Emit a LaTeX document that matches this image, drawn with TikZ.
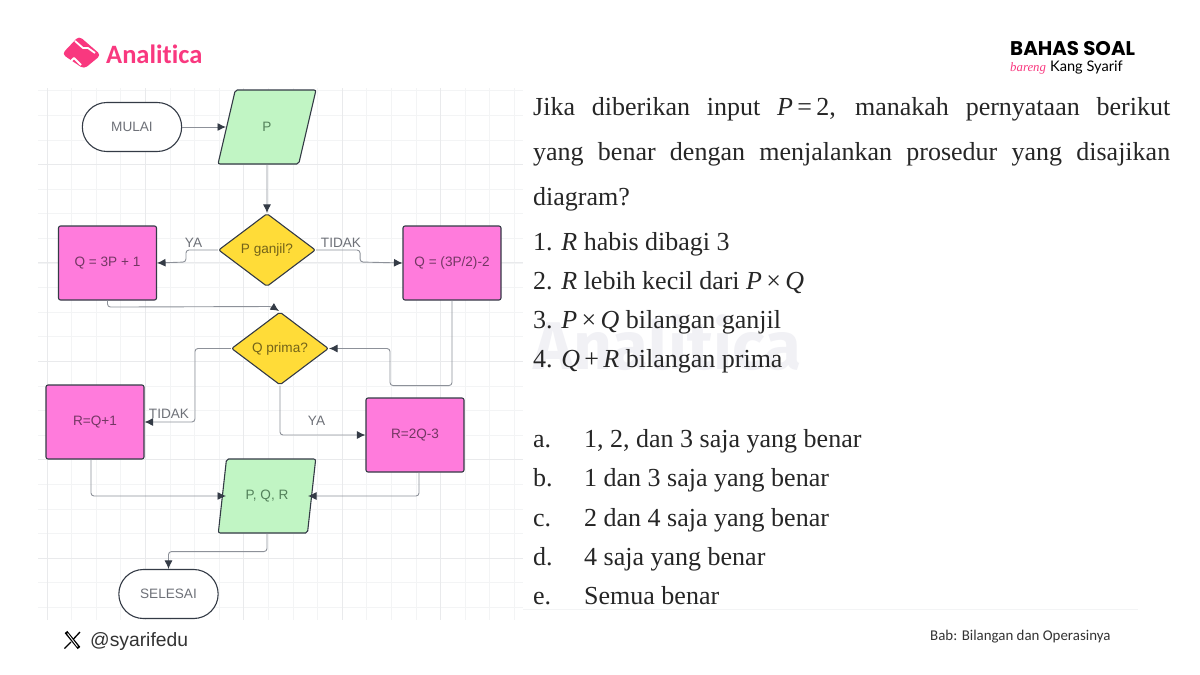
\documentclass[tikz,border=0pt]{standalone}
\usepackage{fontspec}
\setmainfont{Liberation Serif}
\setsansfont{Liberation Sans}
\newfontfamily\brandfont{Fira Sans}
\newfontfamily\headfont{Poppins}
\newfontfamily\footfont[Ligatures=NoCommon]{Carlito}
\newfontfamily\handlefont{Lato}
\usetikzlibrary{arrows.meta,shapes.geometric,shapes.misc}
\definecolor{pinkbox}{HTML}{FF7BDC}
\definecolor{greenbox}{HTML}{C1F5C4}
\definecolor{yellowbox}{HTML}{FFDC38}
\definecolor{edgeline}{HTML}{343B46}
\definecolor{connline}{HTML}{8D9199}
\definecolor{labelgrey}{HTML}{6E7178}
\definecolor{gridminor}{HTML}{F3F4F5}
\definecolor{gridmajor}{HTML}{E9EAEC}
\definecolor{brandpink}{HTML}{F9387F}
\definecolor{markgrey}{HTML}{F1F1F5}
\newcommand{\mv}[1]{\textit{#1}}
\tikzset{
  shape base/.style={draw=edgeline,line width=1.1pt,font=\sffamily\fontsize{13.6}{15}\selectfont},
  terminal/.style={shape base,rounded rectangle,fill=white,text=labelgrey,minimum width=106pt,minimum height=49pt},
  io/.style={shape base,trapezium,trapezium left angle=75,trapezium right angle=105,trapezium stretches=true,
    rounded corners=2pt,fill=greenbox,text=black!30!green!25!labelgrey,minimum width=98pt,minimum height=74pt},
  decision/.style={shape base,diamond,rounded corners=2pt,aspect=1.33,fill=yellowbox,text=yellowbox!45!black,
    minimum width=97pt,minimum height=73pt,inner sep=0pt},
  process/.style={shape base,rectangle,rounded corners=2pt,fill=pinkbox,text=pinkbox!45!black,
    minimum width=98pt,minimum height=74pt},
  conn/.style={draw=connline,line width=.9pt,rounded corners=3pt,-{Latex[length=8.5pt,width=8pt,color=edgeline]}},
  flowlabel/.style={text=labelgrey,font=\sffamily\fontsize{13.6}{15}\selectfont,inner sep=0pt},
  free text/.style={anchor=base west,inner sep=0pt},
  line text/.style={free text,font=\fontsize{26}{28}\selectfont,text=black!85},
}
\begin{document}
\begin{tikzpicture}[x=1pt,y=-1pt]
  \useasboundingbox (0,0) rectangle (1200,675);
  \fill[white] (0,0) rectangle (1200,675);
  \foreach \i in {0,...,19}
    \draw[gridminor,line width=.8pt] (47+24.6*\i,88) -- (47+24.6*\i,620);
  \foreach \i in {0,...,21}
    \draw[gridminor,line width=.8pt] (38,90.7+24.6*\i) -- (523,90.7+24.6*\i);
  \foreach \i in {0,...,4}
    \draw[gridmajor,line width=1pt] (47+98.4*\i,88) -- (47+98.4*\i,620);
  \foreach \i in {1,...,5}
    \draw[gridmajor,line width=1pt] (38,66.1+98.4*\i) -- (523,66.1+98.4*\i);
  \draw[gridminor,line width=1pt] (523,609) -- (1138,609);

  \node[free text,text=markgrey,font=\brandfont\bfseries\fontsize{67.5}{70}\selectfont] (mark) at (533,369) {Analitica};

  \node[terminal] (mulai) at (132,127) {MULAI};
  \node[io] (pin) at (267,127) {P};
  \node[decision] (ganjil) at (267,250) {P ganjil?};
  \node[process] (qa) at (107.5,263) {Q = 3P + 1};
  \node[process] (qb) at (452,263) {Q = (3P/2)-2};
  \node[decision] (prima) at (280,348.5) {Q prima?};
  \node[process] (ra) at (95,422) {R=Q+1};
  \node[process] (rb) at (415,435) {R=2Q-3};
  \node[io] (pout) at (267,496) {P, Q, R};
  \node[terminal] (selesai) at (168.5,594) {SELESAI};

  \coordinate (tip) at (279,311);
  \coordinate (pinl) at (226,127);
  \coordinate (poutl) at (226,496);
  \coordinate (poutr) at (308,496);
  \draw[conn] (mulai.east) -- (pinl);
  \draw[conn] (pin.south) -- (ganjil.north);
  \draw[conn] (ganjil.west) -- ++(-32,0) -- ++(0,12) -- (qa.east);
  \draw[conn] (ganjil.east) -- ++(44,0) -- ++(0,12) -- (qb.west);
  \draw[conn] (qa.south) -- ++(0,6.5) -- (272,306.5) -- (tip);
  \draw[conn] (qb.south) -- ++(0,85) -- ++(-62,0) |- (prima.east);
  \draw[conn] (prima.west) -- ++(-36,0) |- (ra.east);
  \draw[conn] (prima.south) |- (rb.west);
  \draw[conn] ([xshift=-4pt]ra.south) |- (poutl);
  \draw[conn] ([xshift=4pt]rb.south) |- (poutr);
  \draw[conn] (pout.south) -- ++(0,18) -| (selesai.north);

  \node[flowlabel] (ya1) at (193.5,243) {YA};
  \node[flowlabel] (tidak1) at (341,242.5) {TIDAK};
  \node[flowlabel] (tidak2) at (169,414) {TIDAK};
  \node[flowlabel] (ya2) at (316.5,421) {YA};

  \fill[brandpink,rounded corners=4pt] (62,54) -- (79,36) -- (101,55) -- (84,69) -- cycle;
  \draw[white,line width=1.8pt,line join=round] (75,41) -- (83,48) -- (88,48) -- (95,53);
  \draw[white,line width=1.8pt,line join=round] (68,64) -- (74,58) -- (81,65);
  \node[free text,text=brandpink,font=\footfont\bfseries\fontsize{26.5}{28}\selectfont] (brand) at (106,63) {Analitica};

  \node[free text,font=\headfont\bfseries\fontsize{19.8}{22}\selectfont] (bahas) at (1010,55) {BAHAS SOAL};
  \node[free text,text=brandpink,font=\rmfamily\itshape\fontsize{12.8}{15}\selectfont] (bareng) at (1010,71) {bareng};
  \node[free text,font=\handlefont\fontsize{14.6}{16}\selectfont] (kang) at (1050,71) {Kang Syarif};

  \node[line text] (intro1) at (533,115) {\makebox[637pt][s]{Jika diberikan input \mv{P}\,=\,2, manakah pernyataan berikut}};
  \node[line text] (intro2) at (533,160) {\makebox[637pt][s]{yang benar dengan menjalankan prosedur yang disajikan}};
  \node[line text] (intro3) at (533,205) {diagram?};
  \node[line text] (s1) at (533,250) {1. \mv{R} habis dibagi 3};
  \node[line text] (s2) at (533,289) {2. \mv{R} lebih kecil dari \mv{P}\,×\,\mv{Q}};
  \node[line text] (s3) at (533,328) {3. \mv{P}\,×\,\mv{Q} bilangan ganjil};
  \node[line text] (s4) at (533,367) {4. \mv{Q}\,+\,\mv{R} bilangan prima};
  \foreach \n/\y/\t in {a/447/{1, 2, dan 3 saja yang benar},b/486/{1 dan 3 saja yang benar},c/526/{2 dan 4 saja yang benar},d/565/{4 saja yang benar},e/604/{Semua benar}} {
    \node[line text] (opt\n) at (533,\y) {\n.};
    \node[line text] (ans\n) at (584,\y) {\t};
  }

  \draw[black,line width=3.4pt] (66,632) -- (79,648);
  \draw[white,line width=.9pt] (67.5,633.5) -- (77.5,646.5);
  \draw[black,line width=1.3pt] (80,632) -- (73.5,639) (71,642) -- (64.5,648.5);
  \node[free text,text=black!80,font=\sffamily\fontsize{19.3}{21}\selectfont] (handle) at (90,646) {@syarifedu};
  \node[free text,text=black!80,font=\footfont\fontsize{14.9}{16}\selectfont] (bab) at (930,640) {Bab: Bilangan dan Operasinya};
\end{tikzpicture}
\end{document}
